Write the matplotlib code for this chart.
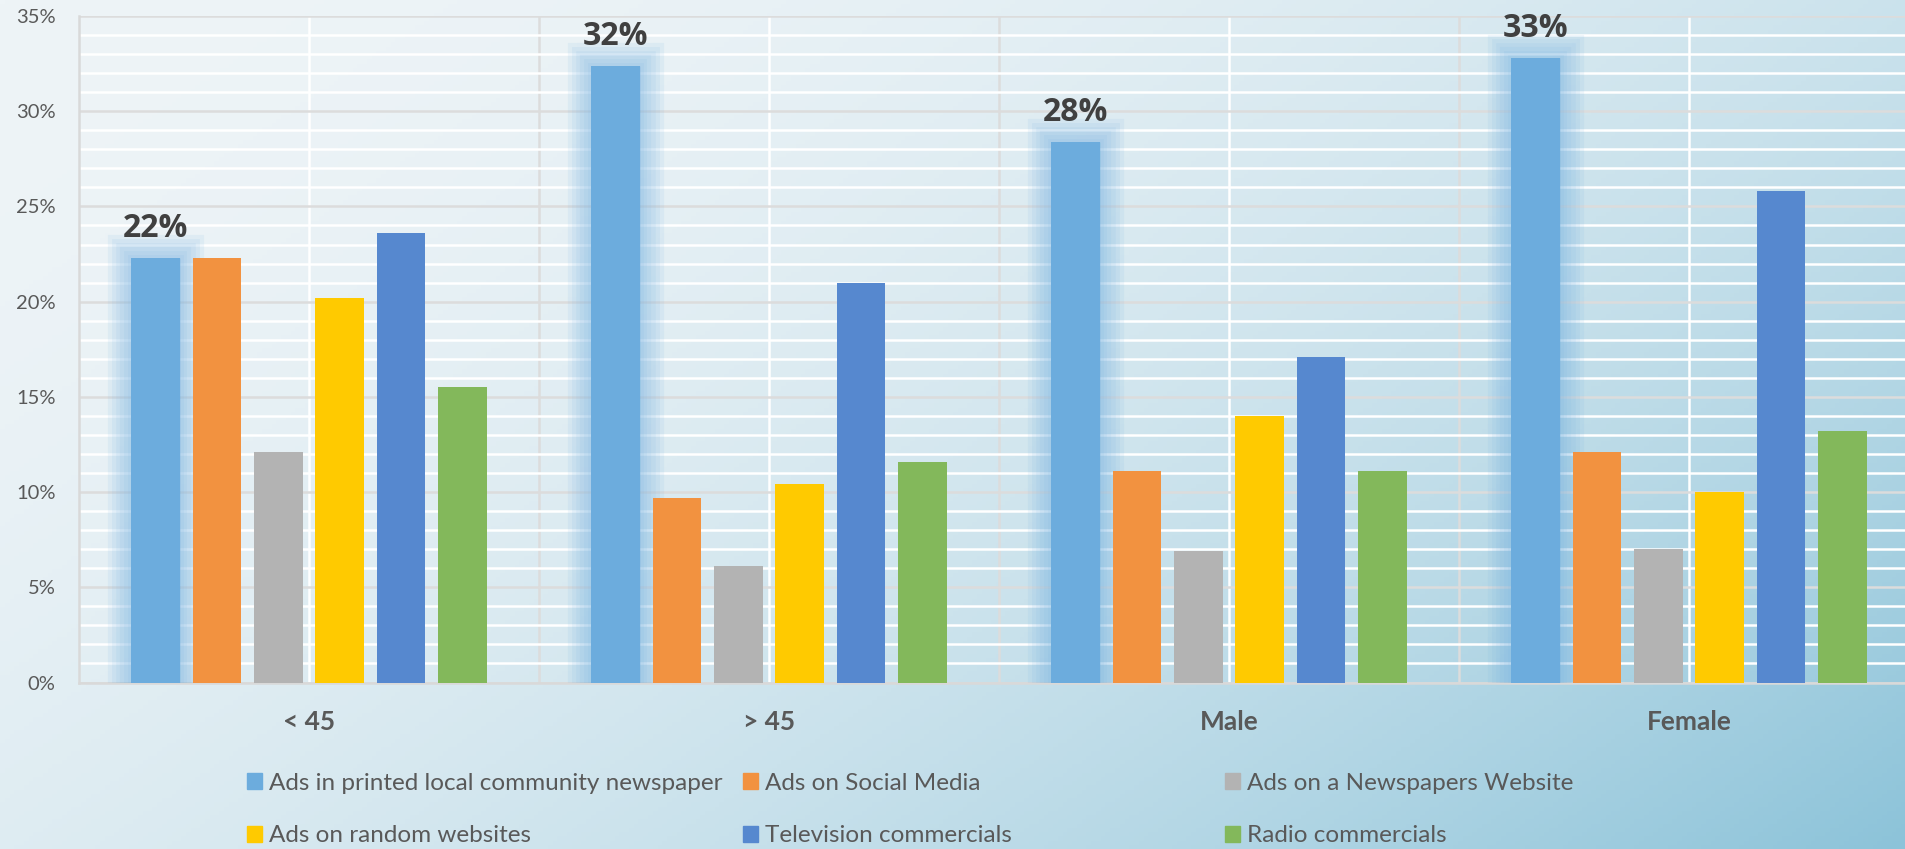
import numpy as np
import matplotlib
matplotlib.use("Agg")
import matplotlib.pyplot as plt
from matplotlib import patheffects as pe
from matplotlib.patches import Patch
from matplotlib.ticker import MultipleLocator, FixedLocator, FuncFormatter

categories = ["< 45", "> 45", "Male", "Female"]
series_names = [
    "Ads in printed local community newspaper",
    "Ads on Social Media",
    "Ads on a Newspapers Website",
    "Ads on random websites",
    "Television commercials",
    "Radio commercials",
]
colors = ["#6cacdd", "#f29240", "#b3b3b3", "#ffca00", "#5688cf", "#83b85b"]

# values in percent
printed_newspaper = [22.3, 32.4, 28.4, 32.8]
social_media = [22.3, 9.7, 11.1, 12.1]
newspaper_website = [12.1, 6.1, 6.9, 7.0]
random_websites = [20.2, 10.4, 14.0, 10.0]
television = [23.6, 21.0, 17.1, 25.8]
radio = [15.5, 11.6, 11.1, 13.2]
series = [printed_newspaper, social_media, newspaper_website,
          random_websites, television, radio]

plt.rcParams['font.family'] = ['Lato', 'DejaVu Sans']

W, H = 1906, 849
fig = plt.figure(figsize=(W / 100, H / 100), dpi=100)

# background gradient
bg = fig.add_axes([0, 0, 1, 1], zorder=-10)
xx, yy = np.meshgrid(np.linspace(0, 1, 400), np.linspace(0, 1, 200))
t = np.clip(0.6 * xx + 0.4 * yy, 0, 1) ** 2
light = np.array([238, 244, 247]) / 255
blue = np.array([140, 195, 217]) / 255
img = light[None, None, :] + (blue - light)[None, None, :] * t[..., None]
bg.imshow(img, extent=[0, 1, 0, 1], aspect='auto', origin='upper')
bg.axis('off')

ax = fig.add_axes([79 / W, 1 - 682.5 / H, 1 - 79 / W, (682.5 - 16) / H])
ax.set_facecolor('none')

x = np.arange(len(categories))
step = 0.8 / len(series)
width = step * 0.79

glow = [pe.Stroke(linewidth=lw, foreground="#79b4e2", alpha=0.11)
        for lw in (34, 28, 22, 16, 10, 5)] + [pe.Normal()]

for i, (vals, name, c) in enumerate(zip(series, series_names, colors)):
    bars = ax.bar(x + (i - 2.5) * step, vals, width, color=c, label=name, zorder=3)
    if i == 0:
        for b in bars:
            b.set_path_effects(glow)
        for xi, v in zip(x + (i - 2.5) * step, vals):
            ax.annotate(f"{v:.0f}%", (xi, v), xytext=(0, 9), textcoords='offset points',
                        ha='center', va='bottom', fontsize=23, fontweight='bold',
                        color='#404040', family='Open Sans', zorder=5)

ax.set_ylim(0, 35)
ax.set_xlim(-0.5, -0.5 + (W - 79) / 460)
ax.yaxis.set_major_locator(MultipleLocator(5))
ax.yaxis.set_minor_locator(MultipleLocator(1))
ax.yaxis.set_major_formatter(FuncFormatter(lambda v, p: f"{v:.0f}%"))
ax.set_xticks(x)
ax.set_xticklabels(categories, fontweight='bold')
ax.xaxis.set_minor_locator(FixedLocator([0.5, 1.5, 2.5]))

ax.grid(which='minor', axis='y', color='white', lw=1.8, zorder=0)
ax.grid(which='major', axis='y', color='#dcdcdc', lw=1.8, zorder=0)
ax.grid(which='major', axis='x', color='white', lw=1.8, zorder=0)
ax.grid(which='minor', axis='x', color='#dcdcdc', lw=1.8, zorder=0)
ax.set_axisbelow(True)

ax.tick_params(which='both', length=0)
ax.tick_params(axis='y', labelsize=14.5, labelcolor='#595959', pad=17)
ax.tick_params(axis='x', labelsize=19, labelcolor='#595959', pad=20)
for s in ('top', 'right'):
    ax.spines[s].set_visible(False)
for s in ('left', 'bottom'):
    ax.spines[s].set_color('#d9d9d9')
    ax.spines[s].set_linewidth(1.8)

# legend: 3 columns x 2 rows
col_x = [247, 743, 1225]
row_y = [783, 836]
for k, (name, c) in enumerate(zip(series_names, colors)):
    r, cidx = divmod(k, 3)
    leg = fig.legend(handles=[Patch(color=c)], labels=[name], loc='center left',
                     bbox_to_anchor=(col_x[cidx] / W, 1 - row_y[r] / H),
                     frameon=False, borderpad=0, borderaxespad=0,
                     handlelength=0.6, handleheight=0.6, handletextpad=0.3,
                     fontsize=17.5, labelcolor='#595959')

fig.savefig("out.png", dpi=100)
